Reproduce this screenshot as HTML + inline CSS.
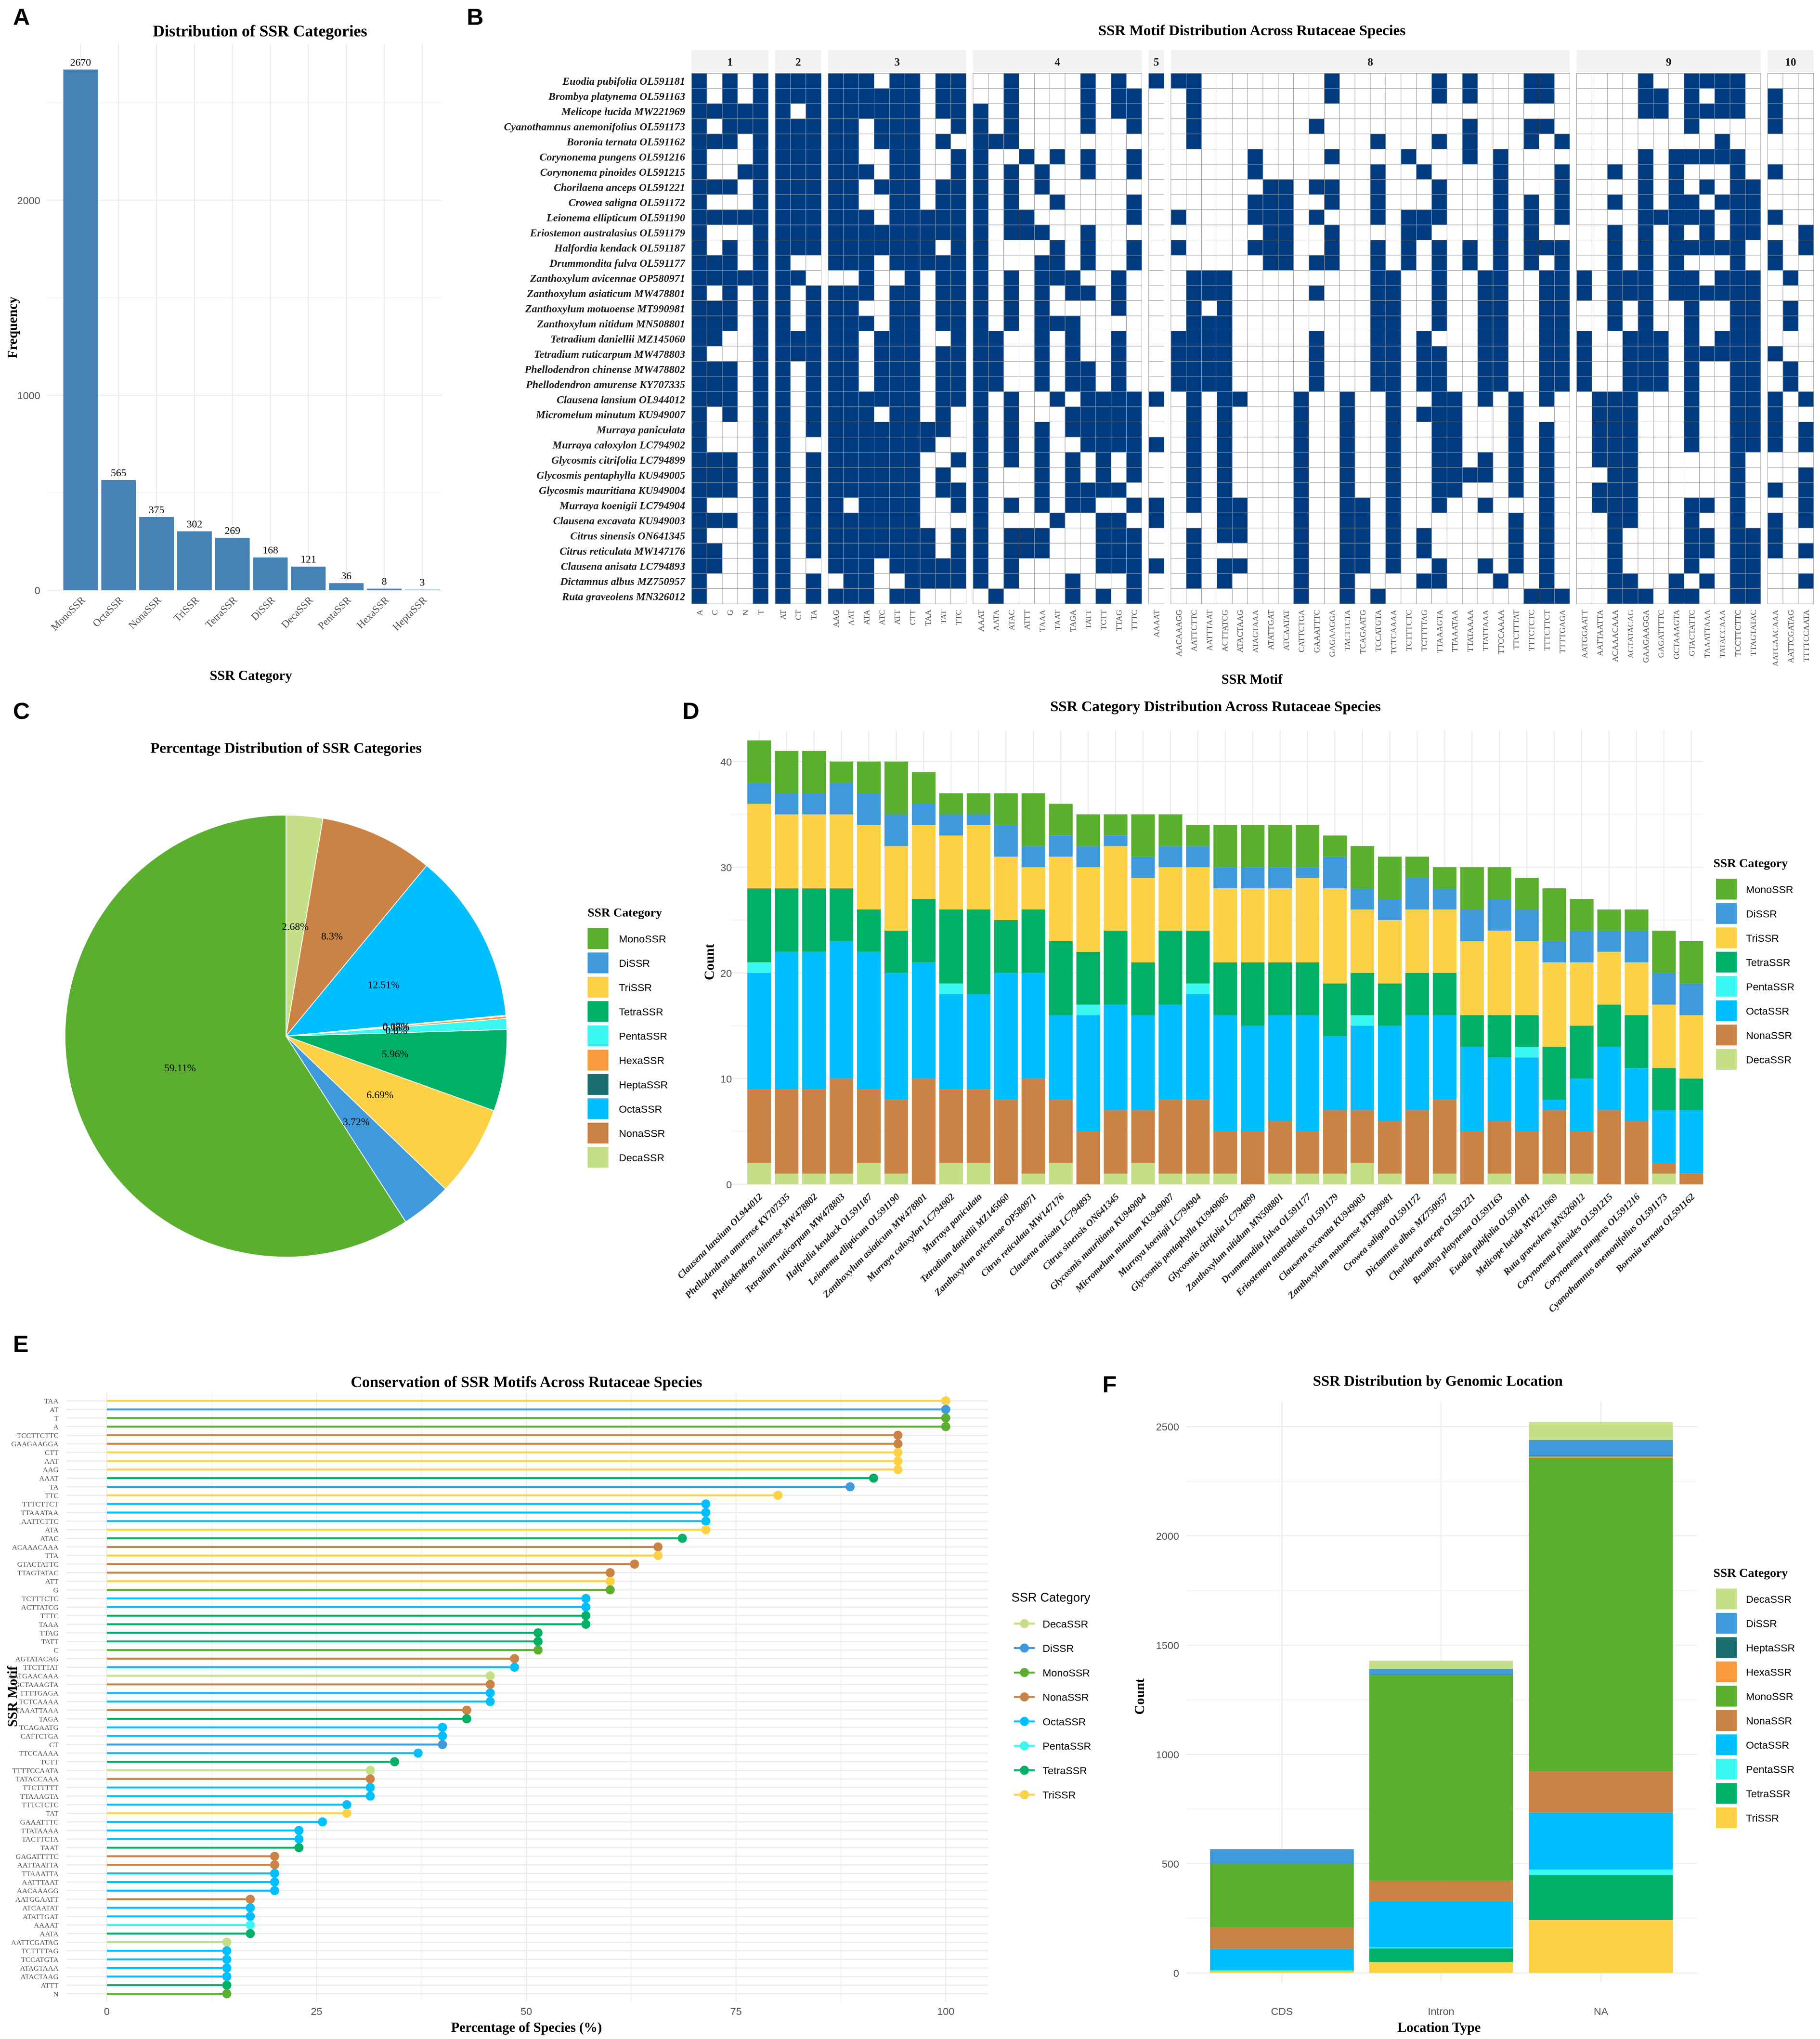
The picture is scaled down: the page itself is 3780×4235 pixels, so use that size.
<!DOCTYPE html>
<html><head><meta charset="utf-8">
<style>
html,body{margin:0;padding:0;background:#fff}
svg{display:block}
</style></head>
<body>
<svg id="fig" xmlns="http://www.w3.org/2000/svg" width="3780" height="4235" viewBox="0 0 1400 1568.5">
<rect x="0" y="0" width="1400" height="1568.5" fill="#ffffff"/>
<g font-family="Liberation Sans, sans-serif" font-weight="bold" font-size="18" fill="#000">
<text x="10" y="19">A</text>
<text x="359" y="19">B</text>
<text x="10" y="553">C</text>
<text x="525" y="553">D</text>
<text x="10" y="1040">E</text>
<text x="848" y="1071">F</text>
</g>
<g font-family="Liberation Serif, serif" font-weight="bold" fill="#000" text-anchor="middle">
<text x="200" y="28" font-size="12.5">Distribution of SSR Categories</text>
<text x="193" y="523" font-size="10.5">SSR Category</text>
<text x="0" y="0" font-size="10.5" transform="translate(13,252) rotate(-90)">Frequency</text>
<text x="963" y="27" font-size="11.5">SSR Motif Distribution Across Rutaceae Species</text>
<text x="963" y="526" font-size="10.5">SSR Motif</text>
<text x="220" y="579" font-size="11.5">Percentage Distribution of SSR Categories</text>
<text x="935" y="547" font-size="11.5">SSR Category Distribution Across Rutaceae Species</text>
<text x="0" y="0" font-size="10.5" transform="translate(549,740) rotate(-90)">Count</text>
<text x="405" y="1067" font-size="12">Conservation of SSR Motifs Across Rutaceae Species</text>
<text x="405" y="1563" font-size="10.5">Percentage of Species (%)</text>
<text x="0" y="0" font-size="10.5" transform="translate(13,1305) rotate(-90)">SSR Motif</text>
<text x="1106" y="1066" font-size="11.5">SSR Distribution by Genomic Location</text>
<text x="1107" y="1563" font-size="10.5">Location Type</text>
<text x="0" y="0" font-size="10.5" transform="translate(880,1305) rotate(-90)">Count</text>
</g>
</svg>
<script>
// ---------- DATA ----------
const COL={Mono:'#5BAF2E',Di:'#3F9ADB',Tri:'#FDD145',Tetra:'#00B067',Penta:'#3BF7F2',Hexa:'#F99B3D',Hepta:'#1B6F6E',Octa:'#00BFFE',Nona:'#CB8345',Deca:'#C4DF87'};

// Panel A
const aCategories=['MonoSSR','OctaSSR','NonaSSR','TriSSR','TetraSSR','DiSSR','DecaSSR','PentaSSR','HexaSSR','HeptaSSR'];
const aCounts=[2670,565,375,302,269,168,121,36,8,3];
const aTicks=[0,1000,2000];

// Panel B
const bSpecies=['Euodia pubifolia OL591181','Brombya platynema OL591163','Melicope lucida MW221969','Cyanothamnus anemonifolius OL591173','Boronia ternata OL591162','Corynonema pungens OL591216','Corynonema pinoides OL591215','Chorilaena anceps OL591221','Crowea saligna OL591172','Leionema ellipticum OL591190','Eriostemon australasius OL591179','Halfordia kendack OL591187','Drummondita fulva OL591177','Zanthoxylum avicennae OP580971','Zanthoxylum asiaticum MW478801','Zanthoxylum motuoense MT990981','Zanthoxylum nitidum MN508801','Tetradium daniellii MZ145060','Tetradium ruticarpum MW478803','Phellodendron chinense MW478802','Phellodendron amurense KY707335','Clausena lansium OL944012','Micromelum minutum KU949007','Murraya paniculata','Murraya caloxylon LC794902','Glycosmis citrifolia LC794899','Glycosmis pentaphylla KU949005','Glycosmis mauritiana KU949004','Murraya koenigii LC794904','Clausena excavata KU949003','Citrus sinensis ON641345','Citrus reticulata MW147176','Clausena anisata LC794893','Dictamnus albus MZ750957','Ruta graveolens MN326012'];
const bGroupLabels=['1','2','3','4','5','8','9','10'];
const bGroupMotifs=[
 ['A','C','G','N','T'],
 ['AT','CT','TA'],
 ['AAG','AAT','ATA','ATC','ATT','CTT','TAA','TAT','TTC'],
 ['AAAT','AATA','ATAC','ATTT','TAAA','TAAT','TAGA','TATT','TCTT','TTAG','TTTC'],
 ['AAAAT'],
 ['AACAAAGG','AATTCTTC','AATTTAAT','ACTTATCG','ATACTAAG','ATAGTAAA','ATATTGAT','ATCAATAT','CATTCTGA','GAAATTTC','GAGAAGGA','TACTTCTA','TCAGAATG','TCCATGTA','TCTCAAAA','TCTTTCTC','TCTTTTAG','TTAAAGTA','TTAAATAA','TTATAAAA','TTATTAAA','TTCCAAAA','TTCTTTAT','TTTCTCTC','TTTCTTCT','TTTTGAGA'],
 ['AATGGAATT','AATTAATTA','ACAAACAAA','AGTATACAG','GAAGAAGGA','GAGATTTTC','GCTAAAGTA','GTACTATTC','TAAATTAAA','TATACCAAA','TCCTTCTTC','TTAGTATAC'],
 ['AATGAACAAA','AATTCGATAG','TTTTCCAATA']
];
const bPresence=[
'10101 111 111011011 00100001010 1 11000000001000000101000110 000010011110 000',
'10101 111 111111011 00100001011 0 01000000001000000101000110 000011010110 100',
'11111 101 111111011 10100001011 0 01000000000000000000000000 000011011110 100',
'10111 111 110111001 10100001001 0 01000000010000000001000110 000000010000 100',
'11101 111 110111010 11100000000 0 01000000000001000101000101 000000000100 000',
'10001 111 110011001 10010101001 0 00000100001000010001010000 000010111110 000',
'10011 111 111011001 10101001001 0 00000100000001001000010001 001010100010 100',
'11101 111 110111011 10101000000 0 00000011011001000100010001 000010101011 000',
'10001 111 110011011 10100100001 0 00000111001001000100010101 001010110111 000',
'11111 111 111011111 10110000001 0 10000111010001011100010101 000011111011 100',
'10001 111 111111111 10111001000 0 00000011001000011000010100 001010101011 001',
'10101 111 111111101 10000101001 0 10000111001001010101010111 001010111110 101',
'11101 100 111011111 10001101001 0 00000011011001010101010101 001010100010 100',
'11111 110 001001011 10101110010 0 01110000000001100100110011 101110110111 010',
'10101 101 111011011 10101011010 0 01110000010001100100110011 101110111111 000',
'11101 101 110011011 10101000010 0 01010000000001100100110011 001010010011 010',
'11101 101 111011011 10101110000 0 01110000000001100100110011 001010010011 010',
'11001 111 110111001 11001010010 0 11110000010001101000110011 100111010111 000',
'10001 111 110111011 11001010010 0 11110000010001101100110011 100111011111 100',
'11101 101 110111011 11001011010 0 11110000010001101100110011 100111010011 010',
'11101 101 110111011 11001011010 0 11110000010001101100110011 100111010011 010',
'11101 101 111111011 10100101111 1 01011000100100100110101010 011100010011 101',
'10101 101 111011010 10100011111 0 01010000100100101110001000 011100010011 100',
'10001 101 111111110 10101011111 0 01010000100100100110001010 011100010011 101',
'10001 100 111111100 10101001111 1 01010000100100100110001010 011100010011 101',
'11101 101 111111001 10101010101 0 01010000100100100110101010 011100000010 000',
'11101 101 111111010 10001010101 0 01010000100100100111101010 001100000010 001',
'11101 101 111111011 10001011110 0 01010000100100100110001010 011100000010 101',
'10001 101 101111001 10101011001 1 01011000100110100100100010 011100011010 001',
'11101 101 111111000 10000100110 1 00011000100110100000001010 001100010010 101',
'10001 101 111111101 10111000111 0 01011000100110101000001010 001000011011 100',
'11001 101 111111101 10111000111 0 01000000100110101000001010 001000011011 101',
'11001 100 111011111 10100000111 1 01011000100110100100101010 001000010011 000',
'10001 101 011001111 10100010001 0 01010000100100001100010010 001100101011 001',
'10001 101 111011000 01000010101 0 00000000100101000000000111 001110110011 000'
];

// Panel C
const cCategories=['MonoSSR','DiSSR','TriSSR','TetraSSR','PentaSSR','HexaSSR','HeptaSSR','OctaSSR','NonaSSR','DecaSSR'];
const cCounts=[2670,168,302,269,36,8,3,565,375,121];

// Panel D
const dSpecies=['Clausena lansium OL944012','Phellodendron amurense KY707335','Phellodendron chinense MW478802','Tetradium ruticarpum MW478803','Halfordia kendack OL591187','Leionema ellipticum OL591190','Zanthoxylum asiaticum MW478801','Murraya caloxylon LC794902','Murraya paniculata','Tetradium daniellii MZ145060','Zanthoxylum avicennae OP580971','Citrus reticulata MW147176','Clausena anisata LC794893','Citrus sinensis ON641345','Glycosmis mauritiana KU949004','Micromelum minutum KU949007','Murraya koenigii LC794904','Glycosmis pentaphylla KU949005','Glycosmis citrifolia LC794899','Zanthoxylum nitidum MN508801','Drummondita fulva OL591177','Eriostemon australasius OL591179','Clausena excavata KU949003','Zanthoxylum motuoense MT990981','Crowea saligna OL591172','Dictamnus albus MZ750957','Chorilaena anceps OL591221','Brombya platynema OL591163','Euodia pubifolia OL591181','Melicope lucida MW221969','Ruta graveolens MN326012','Corynonema pinoides OL591215','Corynonema pungens OL591216','Cyanothamnus anemonifolius OL591173','Boronia ternata OL591162'];
const dDeca=[2,1,1,1,2,1,0,2,2,0,1,2,0,1,2,1,1,1,0,1,1,1,2,1,0,1,0,1,0,1,1,0,0,1,0];
const dNona=[7,8,8,9,7,7,10,7,7,8,9,6,5,6,5,7,7,4,5,5,4,6,5,5,7,7,5,5,5,6,4,7,6,1,1];
const dOcta=[11,13,13,13,13,12,11,9,9,12,10,8,11,10,9,9,10,11,10,10,11,7,8,9,9,8,8,6,7,1,5,6,5,5,6];
const dPenta=[1,0,0,0,0,0,0,1,0,0,0,0,1,0,0,0,1,0,0,0,0,0,1,0,0,0,0,0,1,0,0,0,0,0,0];
const dTetra=[7,6,6,5,4,4,6,7,8,5,6,7,5,7,5,7,5,5,6,5,5,5,4,4,4,4,3,4,3,5,5,4,5,4,3];
const dTri=[8,7,7,7,8,8,7,7,8,6,4,8,8,8,8,6,6,7,7,7,8,9,6,6,6,6,7,8,7,8,6,5,5,6,6];
const dDi=[2,2,2,3,3,3,2,2,1,3,2,2,2,1,2,2,2,2,2,2,1,3,2,2,3,2,3,3,3,2,3,2,3,3,3];
const dMono=[4,4,4,2,3,5,3,2,2,3,5,3,3,2,4,3,2,4,4,4,4,2,4,4,2,2,4,3,3,5,3,2,2,4,4];
const dTicks=[0,10,20,30,40];

// Panel E
const eMotifs=['TAA','AT','T','A','TCCTTCTTC','GAAGAAGGA','CTT','AAT','AAG','AAAT','TA','TTC','TTTCTTCT','TTAAATAA','AATTCTTC','ATA','ATAC','ACAAACAAA','TTA','GTACTATTC','TTAGTATAC','ATT','G','TCTTTCTC','ACTTATCG','TTTC','TAAA','TTAG','TATT','C','AGTATACAG','TTCTTTAT','AATGAACAAA','GCTAAAGTA','TTTTGAGA','TCTCAAAA','TAAATTAAA','TAGA','TCAGAATG','CATTCTGA','CT','TTCCAAAA','TCTT','TTTTCCAATA','TATACCAAA','TTCTTTTT','TTAAAGTA','TTTCTCTC','TAT','GAAATTTC','TTATAAAA','TACTTCTA','TAAT','GAGATTTTC','AATTAATTA','TTAAATTA','AATTTAAT','AACAAAGG','AATGGAATT','ATCAATAT','ATATTGAT','AAAAT','AATA','AATTCGATAG','TCTTTTAG','TCCATGTA','ATAGTAAA','ATACTAAG','ATTT','N'];
const eCategories=['Tri','Di','Mono','Mono','Nona','Nona','Tri','Tri','Tri','Tetra','Di','Tri','Octa','Octa','Octa','Tri','Tetra','Nona','Tri','Nona','Nona','Tri','Mono','Octa','Octa','Tetra','Tetra','Tetra','Tetra','Mono','Nona','Octa','Deca','Nona','Octa','Octa','Nona','Tetra','Octa','Octa','Di','Octa','Tetra','Deca','Nona','Octa','Octa','Octa','Tri','Octa','Octa','Octa','Tetra','Nona','Nona','Octa','Octa','Octa','Nona','Octa','Octa','Penta','Tetra','Deca','Octa','Octa','Octa','Octa','Tetra','Mono'];
const ePercent=[100,100,100,100,94.3,94.3,94.3,94.3,94.3,91.4,88.6,80,71.4,71.4,71.4,71.4,68.6,65.7,65.7,62.9,60,60,60,57.1,57.1,57.1,57.1,51.4,51.4,51.4,48.6,48.6,45.7,45.7,45.7,45.7,42.9,42.9,40,40,40,37.1,34.3,31.4,31.4,31.4,31.4,28.6,28.6,25.7,22.9,22.9,22.9,20,20,20,20,20,17.1,17.1,17.1,17.1,17.1,14.3,14.3,14.3,14.3,14.3,14.3,14.3];
const eTicks=[0,25,50,75,100];

// Panel F
const fLocations=['CDS','Intron','NA'];
const fDeca=[0,38,81];
const fDi=[67,26,72];
const fHepta=[0,2,3];
const fHexa=[0,0,8];
const fMono=[292,942,1435];
const fNona=[97,93,187];
const fOcta=[96,211,261];
const fPenta=[3,5,26];
const fTetra=[3,62,205];
const fTri=[8,50,242];
const fTicks=[0,500,1000,1500,2000,2500];

// ---------- HELPERS ----------
const NS='http://www.w3.org/2000/svg';
const svg=document.getElementById('fig');
function mk(tag,attrs,parent){const e=document.createElementNS(NS,tag);for(const k in attrs)e.setAttribute(k,attrs[k]);(parent||svg).appendChild(e);return e;}
function txt(s,attrs,parent){const e=mk('text',attrs,parent);e.textContent=s;return e;}
const GRID='#ebebeb', GRIDMIN='#f5f5f5', TICK='#4d4d4d';
const SERIF='Liberation Serif, serif', SANS='Liberation Sans, sans-serif';

// ---------- PANEL A ----------
(function(){
 const g=mk('g',{});
 
 
 const y=v=>454-v*0.15, x=i=>62+i*29.2;
 for(let v=0;v<=2800;v+=500){
  const l=mk('line',{x1:36,x2:340,y1:y(v),y2:y(v),stroke:(v%1000===0)?GRID:GRIDMIN,'stroke-width':0.8},g);
  
  
 }
 aCategories.forEach((c,i)=>{
  const l=mk('line',{x1:x(i),x2:x(i),y1:34,y2:454,stroke:GRID,'stroke-width':0.8},g);
  
  
 });
 aTicks.forEach(v=>{
  const t=txt(String(v),{x:31,y:y(v)+3,'font-family':SANS,'font-size':8,fill:TICK,'text-anchor':'end'},g);
  
  
 });
 aCategories.forEach((c,i)=>{
  const r=mk('rect',{x:x(i)-13.3,y:y(aCounts[i]),width:26.6,height:aCounts[i]*0.15,fill:'#4682B4'},g);
  
  
  const t=txt(String(aCounts[i]),{x:x(i),y:y(aCounts[i])-3,'font-family':SERIF,'font-size':8,fill:'#000','text-anchor':'middle'},g);
  
  
  const lt=txt(c,{x:0,y:0,'font-family':SERIF,'font-size':8,fill:TICK,'text-anchor':'end',transform:`translate(${x(i)+4},${462}) rotate(-45)`},g);
  
  
 });
})();

// ---------- PANEL B ----------
(function(){
 const g=mk('g',{});
 
 
 const X0=532, CW=11.8, GAP=5.3, Y0=56.4, RH=11.66;
 let col=0;
 const rows=bPresence.map(s=>s.replace(/ /g,''));
 bGroupMotifs.forEach((motifs,gi)=>{
  const gx=X0+col*CW+gi*GAP;
  const s=mk('rect',{x:gx,y:38.5,width:motifs.length*CW,height:17,fill:'#f2f2f2'},g);
  
  
  const st=txt(bGroupLabels[gi],{x:gx+motifs.length*CW/2,y:50.5,'font-family':SERIF,'font-weight':'bold','font-size':8.5,'text-anchor':'middle',fill:'#1a1a1a'},g);
  
  
  motifs.forEach((m,mi)=>{
   const cx=gx+mi*CW;
   rows.forEach((row,ri)=>{
    const on=row[col+mi]==='1';
    const r=mk('rect',{x:cx,y:Y0+ri*RH,width:CW,height:RH,fill:on?'#003B80':'#ffffff',stroke:'#9a9a9a','stroke-width':0.35},g);
    
    
   });
   const t=txt(m,{x:0,y:0,'font-family':SERIF,'font-size':6.3,fill:TICK,'text-anchor':'end',transform:`translate(${cx+CW/2+2.2},469) rotate(-90)`},g);
   
   
  });
  col+=motifs.length;
 });
 bSpecies.forEach((sp,ri)=>{
  const t=txt(sp,{x:527,y:Y0+ri*RH+RH/2+3,'font-family':SERIF,'font-weight':'bold','font-style':'italic','font-size':8.2,fill:'#1a1a1a','text-anchor':'end'},g);
  
  
 });
})();

// ---------- PANEL C ----------
(function(){
 const g=mk('g',{});
 
 
 const CX=220, CY=797, R=170;
 const colors=[COL.Mono,COL.Di,COL.Tri,COL.Tetra,COL.Penta,COL.Hexa,COL.Hepta,COL.Octa,COL.Nona,COL.Deca];
 const total=cCounts.reduce((a,b)=>a+b,0);
 const order=cCategories.map((c,i)=>i).reverse();
 let acc=0;
 const labels=[];
 order.forEach(i=>{
  const f0=acc/total, f1=(acc+cCounts[i])/total; acc+=cCounts[i];
  const a0=f0*2*Math.PI, a1=f1*2*Math.PI;
  const p=(a)=>[CX+R*Math.sin(a),CY-R*Math.cos(a)];
  const [x0,y0]=p(a0),[x1,y1]=p(a1);
  const large=(a1-a0)>Math.PI?1:0;
  const path=mk('path',{d:`M${CX},${CY} L${x0},${y0} A${R},${R} 0 ${large} 1 ${x1},${y1} Z`,fill:colors[i],stroke:'#ffffff','stroke-width':0.6},g);
  
  
  const am=(a0+a1)/2;
  const pct=+(cCounts[i]/total*100).toFixed(2);
  labels.push([pct+'%',CX+R*0.5*Math.sin(am),CY-R*0.5*Math.cos(am)]);
 });
 labels.forEach(([s,x,y])=>{
  const t=txt(s,{x:x,y:y+3,'font-family':SERIF,'font-size':8,fill:'#000','text-anchor':'middle'},g);
  
  
 });
 // legend
 const lt=txt('SSR Category',{x:452,y:705,'font-family':SERIF,'font-weight':'bold','font-size':9.5,fill:'#000'},g);
 
 
 cCategories.forEach((c,i)=>{
  const yy=722+i*18.7;
  const r=mk('rect',{x:452,y:yy-8,width:16,height:16,fill:colors[i]},g);
  
  
  const t=txt(c,{x:476,y:yy+3,'font-family':SANS,'font-size':8,fill:'#000'},g);
  
  
 });
})();

// ---------- PANEL D ----------
(function(){
 const g=mk('g',{});
 
 
 const y=v=>911-v*8.13, x=i=>584+i*21.09;
 for(let v=0;v<=42;v+=5){
  const l=mk('line',{x1:562,x2:1310,y1:y(v),y2:y(v),stroke:(v%10===0)?GRID:GRIDMIN,'stroke-width':0.8},g);
  
  
 }
 dSpecies.forEach((s,i)=>{
  const l=mk('line',{x1:x(i),x2:x(i),y1:562,y2:911,stroke:GRID,'stroke-width':0.8},g);
  
  
 });
 dTicks.forEach(v=>{
  const t=txt(String(v),{x:563,y:y(v)+3,'font-family':SANS,'font-size':8,fill:TICK,'text-anchor':'end'},g);
  
  
 });
 const stack=[['Deca',dDeca],['Nona',dNona],['Octa',dOcta],['Penta',dPenta],['Tetra',dTetra],['Tri',dTri],['Di',dDi],['Mono',dMono]];
 dSpecies.forEach((sp,i)=>{
  let base=0;
  stack.forEach(([k,arr])=>{
   const v=arr[i]; if(!v) return;
   const r=mk('rect',{x:x(i)-9.1,y:y(base+v),width:18.2,height:v*8.13,fill:COL[k]},g);
   
   
   base+=v;
  });
  const t=txt(sp,{x:0,y:0,'font-family':SERIF,'font-style':'italic','font-weight':'bold','font-size':7.4,fill:'#1a1a1a','text-anchor':'end',transform:`translate(${x(i)+3},${921}) rotate(-45)`},g);
  
  
 });
 const lt=txt('SSR Category',{x:1318,y:667,'font-family':SERIF,'font-weight':'bold','font-size':9.5,fill:'#000'},g);
 
 
 ['Mono','Di','Tri','Tetra','Penta','Octa','Nona','Deca'].forEach((k,i)=>{
  const yy=684+i*18.7;
  const r=mk('rect',{x:1320,y:yy-8,width:16,height:16,fill:COL[k]},g);
  
  
  const t=txt(k+'SSR',{x:1343,y:yy+3,'font-family':SANS,'font-size':8,fill:'#000'},g);
  
  
 });
})();

// ---------- PANEL E ----------
(function(){
 const g=mk('g',{});
 
 
 const y=i=>1077.6+i*6.61, x=p=>82.2+p*6.453;
 for(let p=0;p<=100;p+=12.5){
  const l=mk('line',{x1:x(p),x2:x(p),y1:1071,y2:1540,stroke:(p%25===0)?GRID:GRIDMIN,'stroke-width':0.8},g);
  
  
 }
 eMotifs.forEach((m,i)=>{
  const l=mk('line',{x1:51,x2:760,y1:y(i),y2:y(i),stroke:GRID,'stroke-width':0.9},g);
  
  
 });
 eMotifs.forEach((m,i)=>{
  const c=COL[eCategories[i]];
  const s=mk('line',{x1:x(0),x2:x(ePercent[i]),y1:y(i),y2:y(i),stroke:c,'stroke-width':1.5},g);
  
  
  const d=mk('circle',{cx:x(ePercent[i]),cy:y(i),r:3.5,fill:c},g);
  
  
  const t=txt(m,{x:45,y:y(i)+2,'font-family':SERIF,'font-size':5.6,fill:TICK,'text-anchor':'end'},g);
  
  
 });
 eTicks.forEach(p=>{
  const t=txt(String(p),{x:x(p),y:1550,'font-family':SANS,'font-size':8,fill:TICK,'text-anchor':'middle'},g);
  
  
 });
 const lt=txt('SSR Category',{x:778,y:1232,'font-family':SANS,'font-size':9.5,fill:'#000'},g);
 
 
 ['Deca','Di','Mono','Nona','Octa','Penta','Tetra','Tri'].forEach((k,i)=>{
  const yy=1249+i*18.8;
  const l=mk('line',{x1:780,x2:796,y1:yy,y2:yy,stroke:COL[k],'stroke-width':1.5},g);
  
  
  const c=mk('circle',{cx:788,cy:yy,r:3.5,fill:COL[k]},g);
  
  
  const t=txt(k+'SSR',{x:802,y:yy+3,'font-family':SANS,'font-size':8,fill:'#000'},g);
  
  
 });
})();

// ---------- PANEL F ----------
(function(){
 const g=mk('g',{});
 
 
 const y=v=>1517.7-v*0.1681, xc=[986.1,1108.5,1231.5];
 for(let v=0;v<=2600;v+=250){
  const l=mk('line',{x1:912.6,x2:1305.5,y1:y(v),y2:y(v),stroke:(v%500===0)?GRID:GRIDMIN,'stroke-width':0.8},g);
  
  
 }
 fLocations.forEach((loc,i)=>{
  const l=mk('line',{x1:xc[i],x2:xc[i],y1:1078,y2:1525,stroke:GRID,'stroke-width':0.8},g);
  
  
 });
 fTicks.forEach(v=>{
  const t=txt(String(v),{x:907,y:y(v)+3,'font-family':SANS,'font-size':8,fill:TICK,'text-anchor':'end'},g);
  
  
 });
 const stack=[['Tri',fTri],['Tetra',fTetra],['Penta',fPenta],['Octa',fOcta],['Nona',fNona],['Mono',fMono],['Hexa',fHexa],['Hepta',fHepta],['Di',fDi],['Deca',fDeca]];
 fLocations.forEach((loc,i)=>{
  let base=0;
  stack.forEach(([k,arr])=>{
   const v=arr[i]; if(!v) return;
   const r=mk('rect',{x:xc[i]-55.3,y:y(base+v),width:110.6,height:v*0.1681,fill:COL[k]},g);
   
   
   base+=v;
  });
  const t=txt(loc,{x:xc[i],y:1550,'font-family':SANS,'font-size':8,fill:TICK,'text-anchor':'middle'},g);
  
  
 });
 const lt=txt('SSR Category',{x:1318,y:1213,'font-family':SERIF,'font-weight':'bold','font-size':9.5,fill:'#000'},g);
 
 
 ['Deca','Di','Hepta','Hexa','Mono','Nona','Octa','Penta','Tetra','Tri'].forEach((k,i)=>{
  const yy=1230+i*18.7;
  const r=mk('rect',{x:1320,y:yy-8,width:16,height:16,fill:COL[k]},g);
  
  
  const t=txt(k+'SSR',{x:1343,y:yy+3,'font-family':SANS,'font-size':8,fill:'#000'},g);
  
  
 });
})();
</script>
</body></html>
